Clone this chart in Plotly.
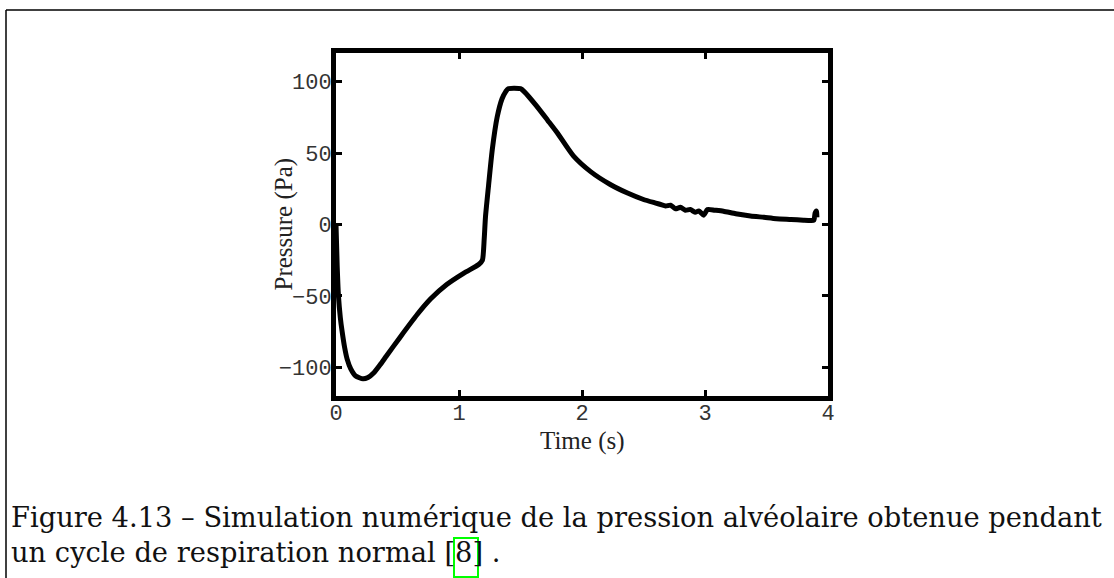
import plotly.graph_objects as go

# Data
time_s = [0.0, 0.01, 0.02, 0.035, 0.05, 0.07, 0.09, 0.12, 0.16, 0.22, 0.26, 0.31, 0.36,
          0.41, 0.52, 0.66, 0.77, 0.90, 1.04, 1.16, 1.19, 1.205, 1.215, 1.24, 1.27, 1.31,
          1.35, 1.38, 1.40, 1.50, 1.53, 1.63, 1.72, 1.80, 1.93, 2.07, 2.23, 2.37, 2.50,
          2.60, 2.64, 2.68, 2.72, 2.76, 2.80, 2.84, 2.88, 2.92, 2.95, 2.99, 3.02, 3.08,
          3.15, 3.25, 3.37, 3.48, 3.58, 3.70, 3.80, 3.86, 3.885, 3.895, 3.905, 3.91]
pressure_pa = [0.0, -30, -50, -65, -75, -86, -94, -101, -106, -108, -107, -103.5, -98,
               -92, -79, -63, -52, -42, -34, -28, -25, -10, 5, 27, 52, 75,
               88, 93, 95, 95, 93, 83, 73, 64, 48, 37, 28, 22, 17.5,
               15, 14, 13, 13.5, 11, 12, 10, 10.5, 8.5, 9.5, 6.5, 10.5, 10,
               9.3, 7.5, 6, 5, 4, 3.5, 3, 2.8, 3, 8, 9.5, 5]

x_ticks = [0, 1, 2, 3, 4]
x_tick_labels = ["0", "1", "2", "3", "4"]
y_ticks = [-100, -50, 0, 50, 100]
y_tick_labels = ["\u2212100", "\u221250", "0", "50", "100"]

x_title = "Time (s)"
y_title = "Pressure (Pa)"
caption_line1 = "Figure 4.13 \u2013 Simulation num\u00e9rique de la pression alv\u00e9olaire obtenue pendant"
caption_line2 = "un cycle de respiration normal [8] ."

W, H = 1114, 578
L, R, T, B = 336, 828, 53, 396  # plot area in pixels


def px(x):
    return (x - L) / (R - L)


def py(y):
    return (B - y) / (B - T)


fig = go.Figure()
fig.add_trace(go.Scatter(x=time_s, y=pressure_pa, mode="lines",
                         line=dict(color="black", width=5, shape="spline", smoothing=0.6),
                         showlegend=False, hoverinfo="skip"))

tick_font = dict(family="Liberation Mono", size=22, color="#333333")
axis_common = dict(showline=True, linecolor="black", linewidth=5, mirror="allticks",
                   ticks="inside", ticklen=6, tickwidth=3, tickcolor="black",
                   showgrid=False, zeroline=False, tickfont=tick_font)

fig.update_xaxes(range=[0, 4], tickvals=x_ticks, ticktext=x_tick_labels,
                 ticklabelstandoff=-7, **axis_common)
fig.update_yaxes(range=[-120, 120], tickvals=y_ticks, ticktext=y_tick_labels,
                 ticklabelstandoff=-5, **axis_common)

serif = "Liberation Serif"
fig.add_annotation(text=x_title, xref="paper", yref="paper", x=0.5, y=py(441),
                   xanchor="center", yanchor="middle", showarrow=False,
                   font=dict(family=serif, size=25, color="#222222"))
fig.add_annotation(text=y_title, xref="paper", yref="paper", x=px(283), y=0.5,
                   xanchor="center", yanchor="middle", textangle=-90, showarrow=False,
                   font=dict(family=serif, size=25, color="#222222"))

cap_font = dict(family="DejaVu Serif", size=27.3, color="#111111")
fig.add_annotation(text=caption_line1, xref="paper", yref="paper", x=px(9), y=py(517),
                   xanchor="left", yanchor="middle", showarrow=False, font=cap_font)
fig.add_annotation(text=caption_line2, xref="paper", yref="paper", x=px(9), y=py(552),
                   xanchor="left", yanchor="middle", showarrow=False, font=cap_font)

# green citation box around "8"
fig.add_shape(type="rect", xref="paper", yref="paper", x0=px(454), x1=px(478),
              y0=py(577), y1=py(538), line=dict(color="#00ff00", width=2))
# outer frame (left and top edges)
fig.add_shape(type="line", xref="paper", yref="paper", x0=px(6), x1=px(6),
              y0=py(10), y1=py(600), line=dict(color="black", width=1.5))
fig.add_shape(type="line", xref="paper", yref="paper", x0=px(6), x1=px(1120),
              y0=py(10), y1=py(10), line=dict(color="black", width=1.5))

fig.update_layout(width=W, height=H, margin=dict(l=L, r=W - R, t=T, b=H - B),
                  paper_bgcolor="white", plot_bgcolor="white", showlegend=False)

fig.write_html("out.html", config={"displayModeBar": False},
               post_script="document.body.style.margin='0';")
